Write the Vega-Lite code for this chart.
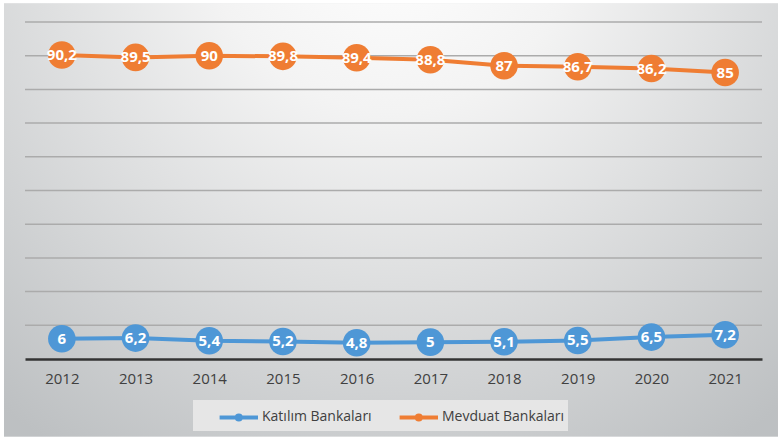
{
  "$schema": "https://vega.github.io/schema/vega-lite/v6.json",
  "width": 737,
  "height": 337,
  "autosize": {"type": "none"},
  "padding": {"left": 25, "top": 22, "right": 20, "bottom": 80},
  "background": "#ffffff",
  "config": {
    "view": {"stroke": null},
    "font": "Open Sans",
    "locale": {"number": {"decimal": ",", "thousands": ".", "grouping": [3], "currency": ["", " ₺"]}}
  },
  "datasets": {
    "series": [
      {"year": "2012", "group": "Katılım Bankaları", "value": 6},
      {"year": "2013", "group": "Katılım Bankaları", "value": 6.2},
      {"year": "2014", "group": "Katılım Bankaları", "value": 5.4},
      {"year": "2015", "group": "Katılım Bankaları", "value": 5.2},
      {"year": "2016", "group": "Katılım Bankaları", "value": 4.8},
      {"year": "2017", "group": "Katılım Bankaları", "value": 5},
      {"year": "2018", "group": "Katılım Bankaları", "value": 5.1},
      {"year": "2019", "group": "Katılım Bankaları", "value": 5.5},
      {"year": "2020", "group": "Katılım Bankaları", "value": 6.5},
      {"year": "2021", "group": "Katılım Bankaları", "value": 7.2},
      {"year": "2012", "group": "Mevduat Bankaları", "value": 90.2},
      {"year": "2013", "group": "Mevduat Bankaları", "value": 89.5},
      {"year": "2014", "group": "Mevduat Bankaları", "value": 90},
      {"year": "2015", "group": "Mevduat Bankaları", "value": 89.8},
      {"year": "2016", "group": "Mevduat Bankaları", "value": 89.4},
      {"year": "2017", "group": "Mevduat Bankaları", "value": 88.8},
      {"year": "2018", "group": "Mevduat Bankaları", "value": 87},
      {"year": "2019", "group": "Mevduat Bankaları", "value": 86.7},
      {"year": "2020", "group": "Mevduat Bankaları", "value": 86.2},
      {"year": "2021", "group": "Mevduat Bankaları", "value": 85}
    ],
    "grid": [
      {"level": 10}, {"level": 20}, {"level": 30}, {"level": 40}, {"level": 50},
      {"level": 60}, {"level": 70}, {"level": 80}, {"level": 90}, {"level": 100}
    ],
    "frame": [{"x0": -0.0285, "x1": 1.0217, "y0": -23.1, "y1": 105.6}]
  },
  "resolve": {"scale": {"x": "independent"}, "axis": {"x": "independent"}},
  "layer": [
    {
      "data": {"name": "frame"},
      "mark": {
        "type": "rect",
        "clip": false,
        "fill": {
          "gradient": "radial",
          "x1": 0.5, "y1": 0.12, "x2": 0.5, "y2": 0.12,
          "r1": 0, "r2": 0.8,
          "stops": [
            {"offset": 0, "color": "#ffffff"},
            {"offset": 0.3, "color": "#f3f3f3"},
            {"offset": 1, "color": "#bdc0c2"}
          ]
        }
      },
      "encoding": {
        "x": {"field": "x0", "type": "quantitative", "scale": {"domain": [0, 1], "nice": false, "zero": false}, "axis": null},
        "x2": {"field": "x1"},
        "y": {"field": "y0", "type": "quantitative", "scale": {"domain": [0, 100], "nice": false}, "axis": null},
        "y2": {"field": "y1"}
      }
    },
    {
      "layer": [
        {
          "data": {"name": "grid"},
          "mark": {"type": "rule", "stroke": "#ababab", "strokeWidth": 1.5},
          "encoding": {
            "y": {"field": "level", "type": "quantitative"}
          }
        },
        {
          "data": {"name": "series"},
          "mark": {"type": "line", "strokeWidth": 4},
          "encoding": {
            "x": {
              "field": "year", "type": "ordinal",
              "scale": {"type": "point", "padding": 0.5},
              "axis": {
                "title": null, "ticks": false, "grid": false,
                "domainColor": "#333333", "domainWidth": 2.5,
                "labelFont": "Open Sans", "labelFontSize": 15, "labelColor": "#404040",
                "labelPadding": 12, "labelAngle": 0, "zindex": 1
              }
            },
            "y": {"field": "value", "type": "quantitative"},
            "color": {
              "field": "group", "type": "nominal",
              "scale": {"domain": ["Katılım Bankaları", "Mevduat Bankaları"], "range": ["#4e97d6", "#ef7d33"]},
              "legend": {
                "title": null,
                "orient": "none",
                "direction": "horizontal",
                "legendX": 168,
                "legendY": 378,
                "fillColor": "#e6e6e6",
                "padding": 3,
                "symbolType": "M0.8,0L4,0M2.57,0A0.17,0.17,0,1,1,2.23,0A0.17,0.17,0,1,1,2.57,0",
                "symbolSize": 576,
                "symbolStrokeWidth": 4,
                "labelFont": "Open Sans",
                "labelFontSize": 14,
                "labelColor": "#404040",
                "labelOffset": 38,
                "columnPadding": 4,
                "labelLimit": 300,
                "encode": {
                  "symbols": {
                    "update": {
                      "fill": {"scale": "color", "field": "value"},
                      "stroke": {"scale": "color", "field": "value"}
                    }
                  }
                }
              }
            }
          }
        },
        {
          "data": {"name": "series"},
          "mark": {"type": "circle", "size": 760, "opacity": 1},
          "encoding": {
            "x": {"field": "year", "type": "ordinal"},
            "y": {"field": "value", "type": "quantitative"},
            "color": {"field": "group", "type": "nominal"}
          }
        },
        {
          "data": {"name": "series"},
          "mark": {"type": "text", "color": "#ffffff", "fontWeight": "bold", "fontSize": 15, "font": "Open Sans", "baseline": "middle", "align": "center"},
          "encoding": {
            "x": {"field": "year", "type": "ordinal"},
            "y": {"field": "value", "type": "quantitative"},
            "text": {"field": "value", "type": "quantitative", "format": "~g"}
          }
        }
      ]
    }
  ]
}
